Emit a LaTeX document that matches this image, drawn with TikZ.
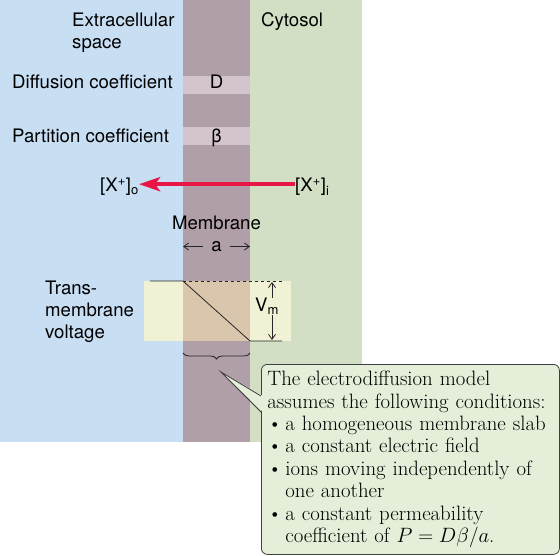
\documentclass[tikz,border=0pt]{standalone}
\usepackage{fontspec}
\setsansfont{TeX Gyre Heros}
\usetikzlibrary{arrows.meta,decorations.pathreplacing}

\definecolor{extrablue}{RGB}{200,222,243}
\definecolor{membranecol}{RGB}{176,158,168}
\definecolor{cytogreen}{RGB}{210,223,197}
\definecolor{bandcol}{RGB}{212,196,206}
\definecolor{voltcream}{RGB}{241,241,214}
\definecolor{volttan}{RGB}{218,198,172}
\definecolor{calloutfill}{RGB}{228,238,216}
\definecolor{arrowred}{RGB}{232,22,70}

\tikzset{
  lbl/.style={font=\sffamily\fontsize{18.6}{22}\selectfont, inner sep=0pt},
  thinline/.style={line width=0.8pt, draw=black!85},
  barb/.style={thinline, -{Straight Barb[length=5pt,width=7pt]}},
}

\begin{document}
\begin{tikzpicture}[x=1pt,y=-1pt]
\useasboundingbox (0,0) rectangle (560,556);
\fill[white] (0,0) rectangle (560,556);

% the three compartments
\fill[extrablue] (0,0) rectangle (183,442);
\fill[membranecol] (183,0) rectangle (250,442);
\fill[cytogreen] (250,0) rectangle (362,442);
\fill[bandcol] (183,76) rectangle (250,94);
\fill[bandcol] (183,127) rectangle (250,145);

% multi-line nodes: base is the last line
\node[lbl, anchor=base west, align=left] (extra) at (72,49) {Extracellular\\space};
\node[lbl, anchor=base west] (cyto) at (261,27) {Cytosol};

\node[lbl, anchor=base west] (diffc) at (12,89) {Diffusion coefficient};
\node[lbl, anchor=base] (dsym) at (216.5,89) {D};
\node[lbl, anchor=base west] (partc) at (12,143) {Partition coefficient};
\node[lbl, anchor=base] (bsym) at (216.5,143) {β};

% flux across the membrane
\node[lbl, anchor=base east] (xo) at (139,192) {[X\textsuperscript{+}]\textsubscript{o}};
\node[lbl, anchor=base west] (xi) at (295,192) {[X\textsuperscript{+}]\textsubscript{i}};
\draw[line width=4pt, arrowred, -{Stealth[length=21pt,width=14pt,inset=5pt]}]
  ([yshift=3pt]xi.west) -- ([yshift=3pt]xo.east);

\node[lbl, anchor=base] (memb) at (216.5,230) {Membrane};
\node[lbl, inner xsep=8pt] (a) at (216.5,246.5) {a};
\coordinate (memL) at (183,246.5);
\coordinate (memR) at (250,246.5);
\draw[barb] (a.west) -- (memL);
\draw[barb] (a.east) -- (memR);

% voltage profile
\fill[voltcream] (144,281) rectangle (291,341);
\fill[volttan] (183,281) rectangle (250,341);
\draw[thinline] (150,281) -- (183,281) -- (250,341) -- (282,341);
\draw[thinline, dashed] (183,281) -- (282,281);

\node[lbl, anchor=base west, align=left] (tmv) at (45,338) {Trans-\\membrane\\voltage};

\node[lbl, anchor=base] (vm) at (267,312) {V\textsubscript{m}};
\coordinate (vtop) at (272,282);
\coordinate (vbot) at (272,340);
\draw[barb] (vtop |- vm.north) -- (vtop);
\draw[barb] (vbot |- vm.south) -- (vbot);

\draw[thinline, decorate, decoration={brace,mirror,amplitude=6pt}] (183,353) -- (250,353);

% callout
\node[draw=black!75, line width=0.8pt, fill=calloutfill, rounded corners=6pt,
      anchor=north west, text width=286pt, inner xsep=6pt, minimum height=190pt,
      align=left, font=\fontsize{20.8}{22.4}\selectfont] (note) at (261,364)
{The electrodiffusion model\\
assumes the following conditions:\\
\textbullet\kern3pt a homogeneous membrane slab\\
\textbullet\kern3pt a constant electric field\\
\textbullet\kern3pt ions moving independently of\\
\hphantom{\textbullet\kern3pt}one another\\
\textbullet\kern3pt a constant permeability\\
\hphantom{\textbullet\kern3pt}coefficient of $P = D\beta/a$.};

\coordinate (tip) at (221,372);
\fill[calloutfill] (263,396) -- (tip) -- (263,412) -- cycle;
\draw[thinline, draw=black!75, line join=miter] (note.west |- 0,396) -- (tip) -- (note.west |- 0,412);

\end{tikzpicture}
\end{document}
